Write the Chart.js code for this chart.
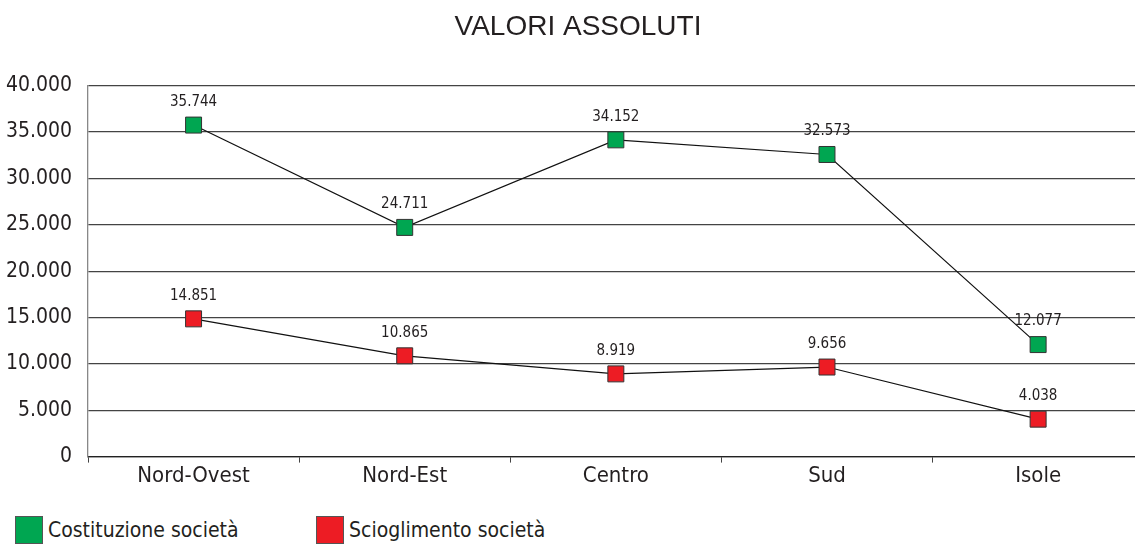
<!DOCTYPE html>
<html>
<head>
<meta charset="utf-8">
<script src="https://cdn.jsdelivr.net/npm/chart.js@4/dist/chart.umd.min.js"></script>
<style>
html,body{margin:0;padding:0;background:#fff;overflow:hidden}
#wrap{position:relative;width:1160px;height:548px}
#box{position:absolute;left:0;top:0;width:1156px;height:489px}
#legend{position:absolute;left:15px;top:516px;display:flex;font-family:"Liberation Sans Narrow","DejaVu Sans Condensed",sans-serif;font-size:21px;color:#231f20}
.item{display:flex;align-items:center}
.sw{width:28px;height:28px;border:1px solid #555;box-sizing:border-box;margin-right:5px}
</style>
</head>
<body>
<div id="wrap">
<div id="box"><canvas id="lineChart"></canvas></div>
<div id="legend"></div>
</div>
<script>
/* =====================================================
DATA
===================================================== */

const areas=["Nord-Ovest","Nord-Est","Centro","Sud","Isole"]
const costituzione=[35744,24711,34152,32573,12077]
const scioglimento=[14851,10865,8919,9656,4038]
const seriesNames=["Costituzione società","Scioglimento società"]
const seriesColors=["#00a651","#ed1c24"]

const narrow='"Liberation Sans Narrow","DejaVu Sans Condensed",sans-serif'

function fmt(v){
return String(v).replace(/\B(?=(\d{3})+(?!\d))/g,".")
}

/* =====================================================
VALUE LABELS ABOVE POINTS
===================================================== */

const valueLabels={
id:"valueLabels",
afterDatasetsDraw(chart){
const ctx=chart.ctx
ctx.save()
ctx.font="15px "+narrow
ctx.fillStyle="#231f20"
ctx.textAlign="center"
ctx.textBaseline="middle"
chart.data.datasets.forEach((ds,i)=>{
chart.getDatasetMeta(i).data.forEach((pt,j)=>{
ctx.fillText(fmt(ds.data[j]),pt.x,pt.y-23)
})
})
ctx.restore()
}
}

/* =====================================================
CHART
===================================================== */

function makeSet(i,values){
return{
label:seriesNames[i],
data:values,
borderColor:"#111",
borderWidth:1.2,
pointStyle:"rect",
pointRadius:11.3,
pointHoverRadius:11.3,
pointBackgroundColor:seriesColors[i],
pointBorderColor:"#333",
pointBorderWidth:1
}
}

new Chart(document.getElementById("lineChart"),{
type:"line",
data:{
labels:areas,
datasets:[makeSet(0,costituzione),makeSet(1,scioglimento)]
},
plugins:[valueLabels],
options:{
responsive:true,
maintainAspectRatio:false,
animation:false,
layout:{padding:0},
plugins:{
legend:{display:false},
tooltip:{enabled:false},
title:{
display:true,
text:"VALORI ASSOLUTI",
color:"#231f20",
font:{family:'"Liberation Sans",Arial,sans-serif',size:28,weight:"normal"},
padding:{top:10,bottom:42}
}
},
scales:{
x:{
offset:true,
grid:{display:true,drawOnChartArea:false,drawTicks:true,tickLength:6,color:"#444",offset:true},
border:{color:"#222",width:1.3},
ticks:{color:"#231f20",font:{family:narrow,size:22},padding:0}
},
y:{
min:0,
max:40000,
afterFit(s){s.width=88},
ticks:{stepSize:5000,color:"#231f20",font:{family:narrow,size:21},padding:16,callback:v=>fmt(v)},
grid:{color:"#444",lineWidth:1.2,drawTicks:false},
border:{color:"#888",width:1.3}
}
}
}
})

/* =====================================================
LEGEND
===================================================== */

const legend=document.getElementById("legend")
seriesNames.forEach((name,i)=>{
const item=document.createElement("div")
item.className="item"
item.style.width=i===0?"301px":"auto"
item.innerHTML='<span class="sw" style="background:'+seriesColors[i]+'"></span>'+name
legend.appendChild(item)
})
</script>
</body>
</html>
